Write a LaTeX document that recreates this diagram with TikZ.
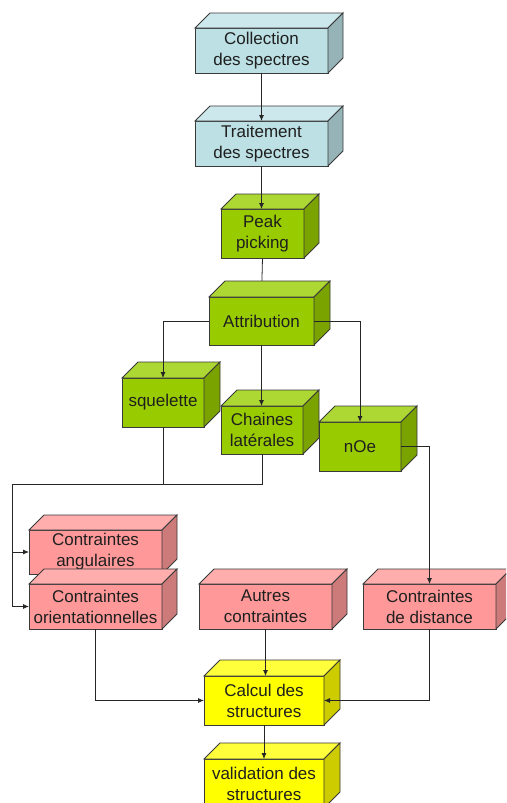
\documentclass[tikz,border=0pt]{standalone}
\usepackage{fontspec}
\setmainfont{Liberation Sans}
\usetikzlibrary{arrows.meta,backgrounds}
\definecolor{edge}{HTML}{3A3A3A}
\definecolor{bluefront}{RGB}{188,224,228}
\definecolor{bluetop}{RGB}{204,232,236}
\definecolor{blueside}{RGB}{150,180,184}
\definecolor{greenfront}{RGB}{153,204,0}
\definecolor{greentop}{RGB}{173,216,51}
\definecolor{greenside}{RGB}{122,163,0}
\definecolor{pinkfront}{RGB}{255,153,153}
\definecolor{pinktop}{RGB}{255,173,173}
\definecolor{pinkside}{RGB}{204,122,122}
\definecolor{yellowfront}{RGB}{255,255,0}
\definecolor{yellowtop}{RGB}{255,255,60}
\definecolor{yellowside}{RGB}{204,204,0}
\tikzset{
  x=1pt, y=-1pt,
  cubebox/.style={draw=edge, line width=0.9pt, outer sep=0pt, inner sep=0pt,
    align=center, text=black!88, font=\fontsize{17}{21}\selectfont},
  faceline/.style={draw=edge, line width=0.9pt, line join=miter},
  conn/.style={draw=black!85, line width=0.8pt},
  arr/.style={conn, -{Latex[length=6pt,width=5pt]}},
}
% name, x, y, width, height, depth, colour scheme, text
\newcommand\cubenode[8]{%
  \node[cubebox, fill=#7front, minimum width=#4pt, minimum height=#5pt] (#1) at (#2,#3) {#8};
  \path[faceline, fill=#7top] (#1.north west) -- ++(#6,-#6) -- ([shift={(#6,-#6)}]#1.north east) -- (#1.north east) -- cycle;
  \path[faceline, fill=#7side] (#1.north east) -- ++(#6,-#6) -- ([shift={(#6,-#6)}]#1.south east) -- (#1.south east) -- cycle;
}
\begin{document}
\begin{tikzpicture}
\useasboundingbox (0,0) rectangle (506,803);
\clip (0,0) rectangle (506,803);

\cubenode{coll}{261.5}{50.5}{133}{45}{15}{blue}{Collection\\des spectres}
\cubenode{trait}{261.5}{143.5}{133}{45}{15}{blue}{Traitement\\des spectres}
\cubenode{peak}{262.5}{233.5}{83}{49}{15}{green}{Peak\\picking}
\cubenode{attr}{261.5}{321}{105}{48}{16}{green}{Attribution}
\cubenode{squel}{163}{402.5}{82}{49}{16}{green}{squelette}
\cubenode{chain}{262}{430}{82}{48}{16}{green}{Chaines\\latérales}
\cubenode{noe}{360}{446.5}{82}{49}{16}{green}{nOe}
\cubenode{ang}{95.5}{552}{133}{44}{15}{pink}{Contraintes\\angulaires}
\cubenode{orient}{95.5}{606.5}{133}{45}{15}{pink}{Contraintes\\orientationnelles}
\cubenode{autres}{265.5}{606.5}{133}{45}{15}{pink}{Autres\\contraintes}
\cubenode{dist}{429.5}{606.5}{133}{45}{15}{pink}{Contraintes\\de distance}
\cubenode{calc}{264}{700.5}{120}{49}{16}{yellow}{Calcul des\\structures}
\cubenode{valid}{264}{783.5}{120}{49}{16}{yellow}{validation des\\structures}

\coordinate (bus) at (12,484);

\begin{scope}[on background layer]
  \fill[white] (0,0) rectangle (506,803);
  \draw[conn] (peak.south) -- (attr.north);
\end{scope}
\draw[arr] (coll.south) -- (trait.north);
\draw[arr] (trait.south) -- (peak.north -| trait.south);
\draw[arr] (attr.west) -| (squel.north);
\draw[arr] (attr.east) -| (noe.north);
\draw[arr] (attr.south) -- (chain.north -| attr.south);
\draw[conn] (squel.south) -- (squel.south |- bus);
\draw[arr] (chain.south) |- (bus) |- (ang.west);
\draw[arr] (bus) |- (orient.west);
\draw[arr] (noe.east) -| (dist.north);
\draw[arr] (orient.south) |- (calc.west);
\draw[arr] (autres.south) -- (autres.south |- calc.north);
\draw[arr] (dist.south) |- (calc.east);
\draw[arr] (calc.south) -- (valid.north);
\end{tikzpicture}
\end{document}
